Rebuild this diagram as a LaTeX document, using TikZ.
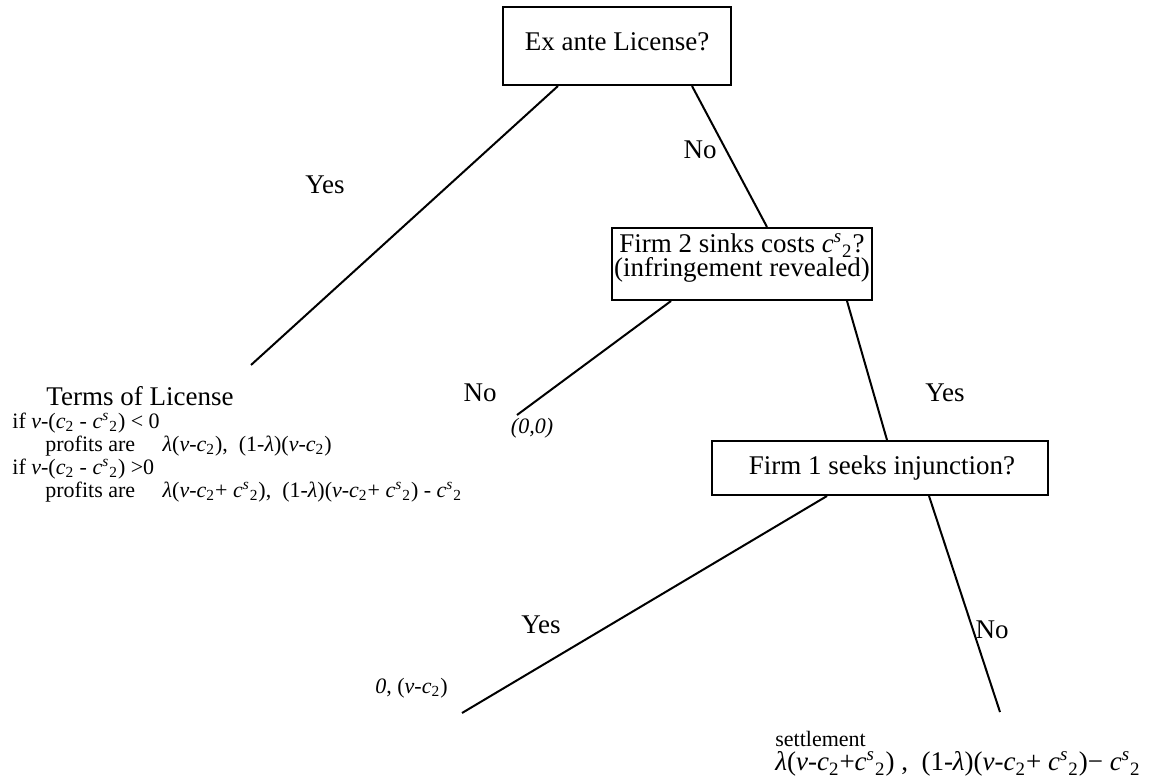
\documentclass[tikz,border=0pt]{standalone}
\usepackage{fontspec}
\setmainfont{Liberation Serif}
\usetikzlibrary{calc}
\newcommand{\myv}{\textit{v}}
\newcommand{\myc}{\textit{c}\textsubscript{2}}
\newcommand{\mycs}{\textit{c}\textsuperscript{\textit{s}}\textsubscript{2}}
\newcommand{\mylam}{\textit{λ}}
\tikzset{
  box/.style={draw, line width=1pt, inner sep=0pt},
  boxtext/.style={inner sep=0pt, align=center, font=\fontsize{13.5}{12}\selectfont},
  big/.style={font=\fontsize{13.5}{16}\selectfont, inner sep=0pt},
  small/.style={font=\fontsize{11}{13}\selectfont, inner sep=0pt},
  branch/.style={line width=1pt},
}
\begin{document}
\begin{tikzpicture}[x=0.5pt,y=-0.5pt]
\useasboundingbox (0,0) rectangle (1150,781);
% decision boxes
\node[box, minimum width=114pt, minimum height=39pt] (b1) at (617,46) {};
\node[boxtext] (b1t) at (617,42) {Ex ante License?};
\node[box, minimum width=130pt, minimum height=36pt] (b2) at (742,264) {};
\node[boxtext, anchor=north] (b2t) at (742,233) {Firm 2 sinks costs \mycs?\\(infringement revealed)};
\node[box, minimum width=168pt, minimum height=27pt] (b3) at (880,468) {};
\node[boxtext] (b3t) at (882,468) {Firm 1 seeks injunction?};
% free ends
\coordinate (e1) at (251,365);
\coordinate (e2) at (517,415);
\coordinate (e3) at (462,713);
\coordinate (e4) at (1000,712);
% branches
\draw[branch] ($(b1.south west)+(56,0)$) -- (e1);
\draw[branch] ($(b1.south west)+(190,0)$) -- ($(b2.north west)+(156,0)$);
\draw[branch] ($(b2.south west)+(60,0)$) -- (e2);
\draw[branch] ($(b2.south west)+(236,0)$) -- ($(b3.north west)+(176,0)$);
\draw[branch] ($(b3.south west)+(116,0)$) -- (e3);
\draw[branch] ($(b3.south west)+(218,0)$) -- (e4);
% branch labels
\node[big] (l1) at (325,185) {Yes};
\node[big] (l2) at (700,150) {No};
\node[big] (l3) at (480,393) {No};
\node[big] (l4) at (945,393) {Yes};
\node[big] (l5) at (541,625) {Yes};
\node[big] (l6) at (992,630) {No};
% payoffs
\node[small] (p00) at (532,428) {\textit{(0,0)}};
\node[small, anchor=east] (pinj) at (448,688) {\textit{0}, (\myv-\myc)};
\node[small, anchor=west] (set1) at (775,739) {settlement};
\node[big, anchor=west] (set2) at (775,764) {\mylam(\myv-\myc+\mycs) ,\ \ (1-\mylam)(\myv-\myc+ \mycs)− \mycs};
% terms of license
\node[big] (tol) at (140,396) {Terms of License};
\node[small, anchor=west] (t1) at (12,423) {if \myv-(\myc{} - \mycs) < 0};
\node[small, anchor=west] (t2) at (45,446) {profits are \quad\mylam(\myv-\myc),\ \ (1-\mylam)(\myv-\myc)};
\node[small, anchor=west] (t3) at (12,469) {if \myv-(\myc{} - \mycs) >0};
\node[small, anchor=west] (t4) at (45,492) {profits are \quad\mylam(\myv-\myc+ \mycs),\ \ (1-\mylam)(\myv-\myc+ \mycs) - \mycs};
\end{tikzpicture}
\end{document}
